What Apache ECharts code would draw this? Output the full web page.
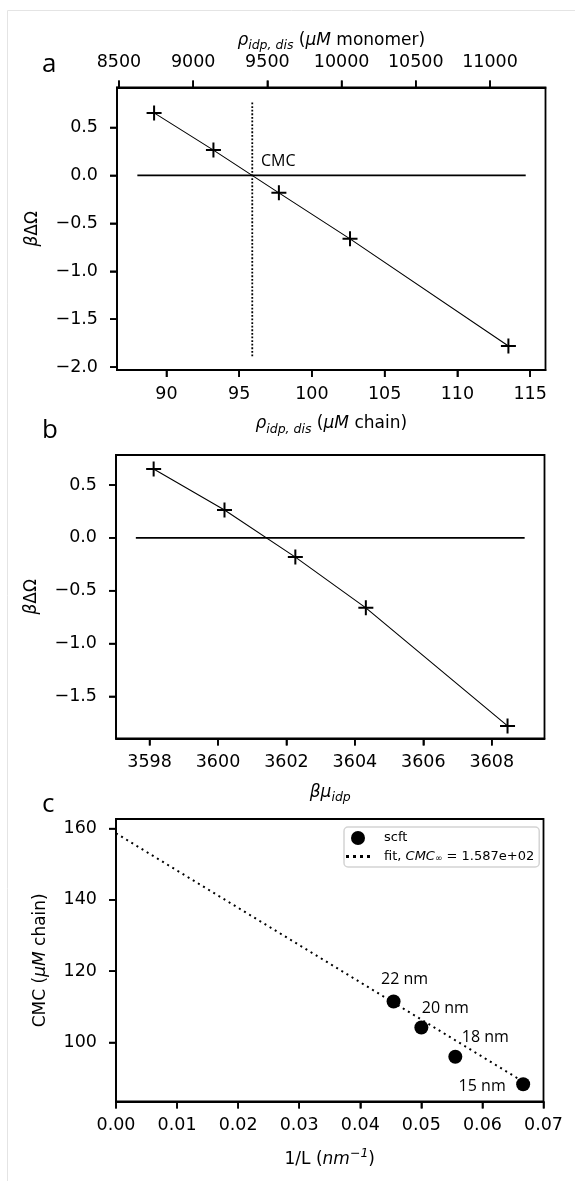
<!DOCTYPE html>
<html><head><meta charset="utf-8">
<script src="https://cdn.jsdelivr.net/npm/echarts@6/dist/echarts.min.js"></script>
<style>html,body{margin:0;padding:0;background:#fff}#c{width:575px;height:1181px}</style>
</head><body><div id="c"></div>
<script>
// ---- Panel a / b data ----
const rhoChain = [89.15, 93.23, 97.73, 102.62, 113.51];      // µM chain
const betaMu = [3598.12, 3600.19, 3602.26, 3604.32, 3608.46];
const dOmega = [0.652, 0.264, -0.182, -0.662, -1.779];
const monomersPerChain = 98;
const cmcChain = 95.9;
const cmcLineY = [0.76, -1.89];
const zeroLineA = [88.0, 114.7];
const zeroLineB = [3597.6, 3608.96];
const ticksChain = [90, 95, 100, 105, 110, 115];
const ticksMonomer = [8500, 9000, 9500, 10000, 10500, 11000];
const ticksDOmegaA = [-2.0, -1.5, -1.0, -0.5, 0.0, 0.5];
const ticksDOmegaB = [-1.5, -1.0, -0.5, 0.0, 0.5];
const ticksBetaMu = [3598, 3600, 3602, 3604, 3606, 3608];
// ---- Panel c data ----
const sizeLabels = ['22 nm', '20 nm', '18 nm', '15 nm'];
const invL = [0.04545, 0.05, 0.05556, 0.06667];
const cmcVals = [111.5, 104.2, 96.0, 88.3];
const fitX = [0, 0.0667];
const fitY = [158.7, 89.0];
const ticksInvL = [0, 0.01, 0.02, 0.03, 0.04, 0.05, 0.06, 0.07];
const ticksCmc = [100, 120, 140, 160];

// axis extents
const xA = [86.6, 116.06], yA = [-2.03, 0.917];
const xB = [3597.02, 3609.54], yB = [-1.898, 0.784];
const xC = [0, 0.07], yC = [83.46, 162.7];

const F = 'DejaVu Sans';
const minus = v => (v < 0 ? '\u2212' : '') + Math.abs(v).toFixed(1);
const richBase = {
  fontFamily: F, fontSize: 17, color: '#000', lineHeight: 24,
  rich: {
    n: {fontFamily: F, fontSize: 17, lineHeight: 24},
    i: {fontFamily: F, fontSize: 17, fontStyle: 'italic', lineHeight: 24},
    s: {fontFamily: F, fontSize: 12.5, fontStyle: 'italic', lineHeight: 14, verticalAlign: 'bottom'},
    p: {fontFamily: F, fontSize: 12.5, fontStyle: 'italic', lineHeight: 14, verticalAlign: 'top'}
  }
};
function axis(o) {
  return Object.assign({
    type: 'value',
    splitLine: {show: false},
    axisLine: {show: true, onZero: false, lineStyle: {color: '#000', width: 1.8}},
    axisTick: {show: true, length: 7, lineStyle: {color: '#000', width: 1.6}, customValues: o.ticks},
    axisLabel: {customValues: o.ticks, color: '#000', fontFamily: F, fontSize: 17.5, margin: o.margin, formatter: o.fmt},
    nameLocation: 'middle', nameTextStyle: richBase
  }, o.extra);
}
const chart = echarts.init(document.getElementById('c'), null, {renderer: 'canvas'});
const plus = 'path://M6.5,0H8.5V6.5H15V8.5H8.5V15H6.5V8.5H0V6.5H6.5Z';
const dotIcon = 'path://M0,0H3V3H0Z M7,0H10V3H7Z M14,0H17V3H14Z M21,0H24V3H21Z';
const grids = [
  {left: 117, top: 87.5, width: 428.5, height: 282.5},
  {left: 116, top: 455, width: 428.5, height: 283.5},
  {left: 116, top: 819, width: 427.5, height: 282.5}
].map(g => Object.assign(g, {show: true, borderColor: '#000', borderWidth: 1.8}));

const labelOffsets = [[11, -22], [24, -19], [30, -19], [-41, 2]];
const fitLabel = 'fit, {i|CMC}{s|\u221e} = ' + fitY[0].toExponential(3).replace(/e\+(\d)$/, 'e+0$1');
const annot = {fontFamily: 'Open Sans', fontSize: 16, color: '#000', opacity: 1};

chart.setOption({
  animation: false,
  grid: grids,
  xAxis: [
    axis({ticks: ticksChain, margin: 15, fmt: v => String(v), extra: {gridIndex: 0, position: 'bottom', min: xA[0], max: xA[1],
      name: '{i|\u03c1}{s|idp, dis} {n|(}{i|\u03bcM}{n| chain)}', nameGap: 42}}),
    axis({ticks: ticksMonomer, margin: 16, fmt: v => String(v), extra: {gridIndex: 0, position: 'top', min: xA[0] * monomersPerChain, max: xA[1] * monomersPerChain,
      name: '{i|\u03c1}{s|idp, dis} {n|(}{i|\u03bcM}{n| monomer)}', nameGap: 35}}),
    axis({ticks: ticksBetaMu, margin: 15, fmt: v => String(v), extra: {gridIndex: 1, position: 'bottom', min: xB[0], max: xB[1],
      name: '{i|\u03b2\u03bc}{s|idp}', nameGap: 42}}),
    axis({ticks: ticksInvL, margin: 15, fmt: v => v.toFixed(2), extra: {gridIndex: 2, position: 'bottom', min: xC[0], max: xC[1],
      name: '{n|1/L (}{i|nm}{p|\u22121}{n|)}', nameGap: 46}})
  ],
  yAxis: [
    axis({ticks: ticksDOmegaA, margin: 19, fmt: minus, extra: {gridIndex: 0, min: yA[0], max: yA[1],
      name: '{i|\u03b2}{n|\u0394\u03a9}', nameGap: 57}}),
    axis({ticks: ticksDOmegaB, margin: 19, fmt: minus, extra: {gridIndex: 1, min: yB[0], max: yB[1],
      name: '{i|\u03b2}{n|\u0394\u03a9}', nameGap: 57}}),
    axis({ticks: ticksCmc, margin: 19, fmt: v => String(v), extra: {gridIndex: 2, min: yC[0], max: yC[1],
      name: '{n|CMC (}{i|\u03bcM}{n| chain)}', nameGap: 60}})
  ],
  legend: {
    left: 344, top: 827, orient: 'vertical',
    data: [{name: 'scft', icon: 'circle', itemStyle: {color: '#000', opacity: 1}}, {name: 'fit', icon: dotIcon, itemStyle: {color: '#000'}}],
    itemWidth: 24, itemHeight: 14, itemGap: 5,
    padding: [4, 5, 4, 2],
    backgroundColor: '#fff', borderColor: '#d4d4d4', borderWidth: 1.5, borderRadius: 4,
    textStyle: {fontFamily: F, fontSize: 13, color: '#000',
      rich: {g: {width: 9}, i: {fontFamily: F, fontSize: 13, fontStyle: 'italic'}, s: {fontFamily: F, fontSize: 9, fontStyle: 'italic', verticalAlign: 'bottom', lineHeight: 12}}},
    formatter: n => n === 'fit' ? '{g|}' + fitLabel : '{g|}' + n
  },
  graphic: [
    {id: 'bl', type: 'line', shape: {x1: 7.5, y1: 10.5, x2: 7.5, y2: 1181}, style: {stroke: '#e4e4e4', lineWidth: 1}, silent: true, z: -10},
    {id: 'bt', type: 'line', shape: {x1: 7.5, y1: 10.5, x2: 575, y2: 10.5}, style: {stroke: '#e4e4e4', lineWidth: 1}, silent: true, z: -10},
    {id: 'la', type: 'text', left: 42, top: 52, style: {text: 'a', fontFamily: 'Open Sans', fontSize: 26, fill: '#000'}},
    {id: 'lb', type: 'text', left: 42, top: 418, style: {text: 'b', fontFamily: 'Open Sans', fontSize: 26, fill: '#000'}},
    {id: 'lc', type: 'text', left: 42, top: 792, style: {text: 'c', fontFamily: 'Open Sans', fontSize: 26, fill: '#000'}}
  ],
  series: [
    {type: 'line', xAxisIndex: 0, yAxisIndex: 0, data: rhoChain.map((x, i) => [x, dOmega[i]]),
      symbol: plus, symbolSize: 15, itemStyle: {color: '#000'}, lineStyle: {color: '#000', width: 1.1}, z: 5},
    {type: 'line', xAxisIndex: 0, yAxisIndex: 0, data: zeroLineA.map(x => [x, 0]), symbol: 'none',
      lineStyle: {color: '#000', width: 1.6}},
    {type: 'line', xAxisIndex: 0, yAxisIndex: 0, data: cmcLineY.map(y => [cmcChain, y]), symbol: 'none',
      lineStyle: {color: '#000', width: 1.8, type: [1.8, 1.8]}},
    {type: 'scatter', xAxisIndex: 0, yAxisIndex: 0, data: [[cmcChain, 0]], symbolSize: 0.1, itemStyle: {color: 'transparent', opacity: 1},
      label: Object.assign({show: true, position: 'inside', offset: [26, -13.5], formatter: 'CMC'}, annot)},
    {type: 'line', xAxisIndex: 2, yAxisIndex: 1, data: betaMu.map((x, i) => [x, dOmega[i]]),
      symbol: plus, symbolSize: 15, itemStyle: {color: '#000'}, lineStyle: {color: '#000', width: 1.1}, z: 5},
    {type: 'line', xAxisIndex: 2, yAxisIndex: 1, data: zeroLineB.map(x => [x, 0]), symbol: 'none',
      lineStyle: {color: '#000', width: 1.6}},
    {name: 'scft', type: 'scatter', xAxisIndex: 3, yAxisIndex: 2, symbol: 'circle', symbolSize: 14, itemStyle: {color: '#000', opacity: 1}, z: 5,
      data: invL.map((x, i) => ({value: [x, cmcVals[i]],
        label: Object.assign({show: true, position: 'inside', offset: labelOffsets[i], formatter: sizeLabels[i]}, annot)}))},
    {name: 'fit', type: 'line', xAxisIndex: 3, yAxisIndex: 2, data: fitX.map((x, i) => [x, fitY[i]]), symbol: 'none',
      itemStyle: {color: '#000'}, lineStyle: {color: '#000', width: 2, type: [2, 4]}}
  ]
});

// Tick marks positioned through the chart's own axis scales (convertToPixel)
const tickSpecs = [
  {axis: 'x', idx: 0, yIdx: 0, vals: ticksChain, edge: yA[0], d: [0, 7]},
  {axis: 'x', idx: 1, yIdx: 0, vals: ticksMonomer, edge: yA[1], d: [0, -7]},
  {axis: 'y', idx: 0, xIdx: 0, vals: ticksDOmegaA, edge: xA[0], d: [-7, 0]},
  {axis: 'x', idx: 2, yIdx: 1, vals: ticksBetaMu, edge: yB[0], d: [0, 7]},
  {axis: 'y', idx: 1, xIdx: 2, vals: ticksDOmegaB, edge: xB[0], d: [-7, 0]},
  {axis: 'x', idx: 3, yIdx: 2, vals: ticksInvL, edge: yC[0], d: [0, 7]},
  {axis: 'y', idx: 2, xIdx: 3, vals: ticksCmc, edge: xC[0], d: [-7, 0]}
];
const tickEls = [];
tickSpecs.forEach((s, si) => {
  s.vals.forEach((v, vi) => {
    let px, py;
    if (s.axis === 'x') {
      px = chart.convertToPixel({xAxisIndex: s.idx}, v);
      py = chart.convertToPixel({yAxisIndex: s.yIdx}, s.edge);
    } else {
      px = chart.convertToPixel({xAxisIndex: s.xIdx}, s.edge);
      py = chart.convertToPixel({yAxisIndex: s.idx}, v);
    }
    tickEls.push({id: 'tk' + si + '_' + vi, type: 'line', silent: true, z: 100, zlevel: 1,
      shape: {x1: px, y1: py, x2: px + s.d[0], y2: py + s.d[1]},
      style: {stroke: '#000', lineWidth: 1.6}});
  });
});
chart.setOption({graphic: tickEls});
</script></body></html>
